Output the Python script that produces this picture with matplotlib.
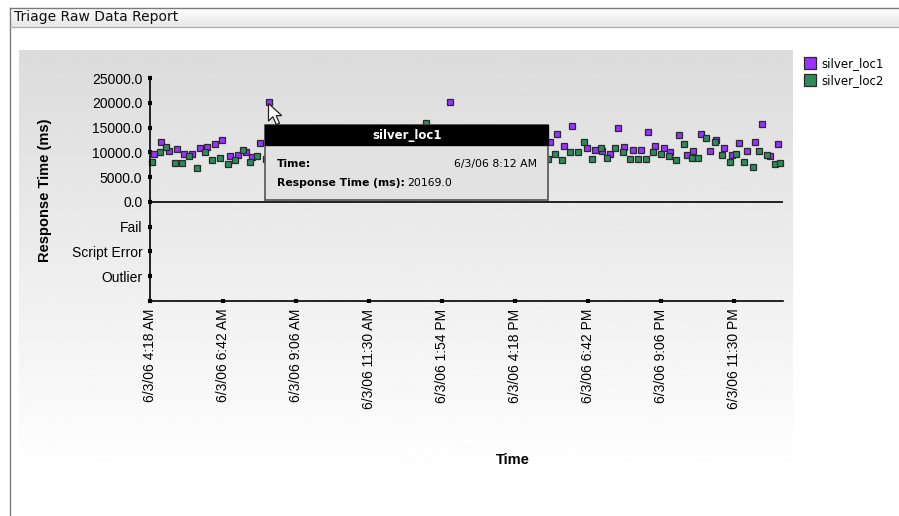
import numpy as np
import pandas as pd
import matplotlib
matplotlib.use("Agg")
import matplotlib.pyplot as plt
from matplotlib.patches import Rectangle, Polygon
from matplotlib.lines import Line2D

# silver_loc1 samples (time, response ms)
loc1_times = [
    "2006-06-03 04:26", "2006-06-03 04:40", "2006-06-03 04:55", "2006-06-03 05:11",
    "2006-06-03 05:25", "2006-06-03 05:41", "2006-06-03 05:57", "2006-06-03 06:10",
    "2006-06-03 06:26", "2006-06-03 06:41", "2006-06-03 06:55", "2006-06-03 07:11",
    "2006-06-03 07:27", "2006-06-03 07:40", "2006-06-03 07:56", "2006-06-03 08:12",
    "2006-06-03 14:10", "2006-06-03 17:27", "2006-06-03 17:42", "2006-06-03 17:55",
    "2006-06-03 18:11", "2006-06-03 18:40", "2006-06-03 18:56", "2006-06-03 19:09",
    "2006-06-03 19:25", "2006-06-03 19:41", "2006-06-03 19:54", "2006-06-03 20:11",
    "2006-06-03 20:26", "2006-06-03 20:40", "2006-06-03 20:55", "2006-06-03 21:12",
    "2006-06-03 21:25", "2006-06-03 21:41", "2006-06-03 21:57", "2006-06-03 22:10",
    "2006-06-03 22:25", "2006-06-03 22:42", "2006-06-03 22:55", "2006-06-03 23:11",
    "2006-06-03 23:27", "2006-06-03 23:40", "2006-06-03 23:56", "2006-06-04 00:12",
    "2006-06-04 00:25", "2006-06-04 00:41", "2006-06-04 00:57",
]
loc1_values = [
    9700, 12100, 10260, 10600, 9700, 9700, 10870, 11070,
    11680, 12490, 9250, 9450, 9980, 8970, 11870, 20169,
    20200, 12140, 13760, 11330, 15380, 10790, 10520, 10180,
    9720, 14840, 11070, 10520, 10520, 14030, 11330, 10790,
    9980, 13490, 9450, 10250, 13760, 10250, 12410, 10790,
    9450, 11880, 10250, 12140, 15650, 9170, 11600,
]

# silver_loc2 samples
loc2_times = [
    "2006-06-03 04:21", "2006-06-03 04:37", "2006-06-03 04:50", "2006-06-03 05:07",
    "2006-06-03 05:22", "2006-06-03 05:35", "2006-06-03 05:51", "2006-06-03 06:07",
    "2006-06-03 06:20", "2006-06-03 06:36", "2006-06-03 06:52", "2006-06-03 07:06",
    "2006-06-03 07:21", "2006-06-03 07:35", "2006-06-03 07:50", "2006-06-03 08:06",
    "2006-06-03 13:22", "2006-06-03 17:23", "2006-06-03 17:37", "2006-06-03 17:50",
    "2006-06-03 18:06", "2006-06-03 18:22", "2006-06-03 18:35", "2006-06-03 18:51",
    "2006-06-03 19:07", "2006-06-03 19:20", "2006-06-03 19:36", "2006-06-03 19:52",
    "2006-06-03 20:05", "2006-06-03 20:21", "2006-06-03 20:37", "2006-06-03 20:50",
    "2006-06-03 21:06", "2006-06-03 21:22", "2006-06-03 21:36", "2006-06-03 21:51",
    "2006-06-03 22:07", "2006-06-03 22:20", "2006-06-03 22:36", "2006-06-03 22:52",
    "2006-06-03 23:06", "2006-06-03 23:22", "2006-06-03 23:35", "2006-06-03 23:51",
    "2006-06-04 00:07", "2006-06-04 00:20", "2006-06-04 00:36", "2006-06-04 00:52",
    "2006-06-04 01:02",
]
loc2_values = [
    8100, 9980, 11070, 7830, 7830, 9170, 6820, 9980,
    8360, 8900, 7560, 8360, 10520, 8100, 9170, 8630,
    15900, 8630, 9720, 8360, 9980, 9980, 12140, 8630,
    10790, 8900, 10790, 9980, 8630, 8630, 8630, 9980,
    9720, 9170, 8360, 11600, 8900, 8900, 12950, 12140,
    9450, 8100, 9720, 8100, 7020, 10250, 9450, 7560,
    7830,
]

x_tick_labels = [
    "6/3/06 4:18 AM", "6/3/06 6:42 AM", "6/3/06 9:06 AM", "6/3/06 11:30 AM",
    "6/3/06 1:54 PM", "6/3/06 4:18 PM", "6/3/06 6:42 PM", "6/3/06 9:06 PM",
    "6/3/06 11:30 PM",
]
y_tick_values = [25000, 20000, 15000, 10000, 5000, 0, -5000, -10000, -15000, -20000]
y_tick_labels = ["25000.0", "20000.0", "15000.0", "10000.0", "5000.0", "0.0",
                 "Fail", "Script Error", "Outlier", ""]

series_names = ["silver_loc1", "silver_loc2"]
colors = ["#9933ff", "#2e8b5c"]

W, H = 899, 516
fig = plt.figure(figsize=(W / 100, H / 100), dpi=100)
fig.patch.set_facecolor("white")

# background layer in pixel coords
bg = fig.add_axes([0, 0, 1, 1], zorder=-1)
bg.axis("off")

# title bar
grad = np.linspace(1.0, 0.90, 50).reshape(-1, 1)
bg.imshow(grad, cmap="gray", vmin=0, vmax=1, extent=(10, W, 27, 8), aspect="auto")
bg.plot([10, W], [8, 8], color="#7a7a7a", lw=1)
bg.plot([10, 10], [8, H], color="#7a7a7a", lw=1)
bg.plot([10, W], [27, 27], color="#b0b0b0", lw=1)
bg.text(14, 17.5, "Triage Raw Data Report", fontsize=10, va="center", ha="left",
        family="DejaVu Sans", color="#111111")

# chart panel gradient
grad2 = np.linspace(0.86, 1.0, 200).reshape(-1, 1)
bg.imshow(grad2, cmap="gray", vmin=0, vmax=1, extent=(19, 793, 475, 50), aspect="auto")
bg.set_xlim(0, W)
bg.set_ylim(H, 0)

# main axes
ax = fig.add_axes([150 / W, 1 - 301 / H, 633 / W, 223 / H])
ax.patch.set_alpha(0)

t1 = pd.to_datetime(loc1_times)
t2 = pd.to_datetime(loc2_times)
ax.plot(t1, loc1_values, ls="none", marker="s", ms=4.8, mfc=colors[0],
        mec="#2a2a2a", mew=0.9, clip_on=False)
ax.plot(t2, loc2_values, ls="none", marker="s", ms=4.8, mfc=colors[1],
        mec="#2a2a2a", mew=0.9, clip_on=False)

xticks = pd.to_datetime(x_tick_labels, format="%m/%d/%y %I:%M %p")
ax.set_xlim(xticks[0], xticks[0] + pd.Timedelta(minutes=1249))
ax.set_ylim(-20000, 25000)
ax.set_xticks(xticks)
ax.set_xticklabels(x_tick_labels, rotation=90, fontsize=10, family="Liberation Sans")
ax.set_yticks(y_tick_values)
ax.set_yticklabels(y_tick_labels, fontsize=10, family="Liberation Sans")
ax.tick_params(axis="both", direction="inout", length=3, width=3, color="black", pad=4)
for s in ["top", "right"]:
    ax.spines[s].set_visible(False)
for s in ["left", "bottom"]:
    ax.spines[s].set_linewidth(1.2)
ax.axhline(0, color="black", lw=1.2)

fig.text(45 / W, 1 - 190 / H, "Response Time (ms)", rotation=90, fontsize=10.5,
         fontweight="bold", family="Liberation Sans", ha="center", va="center")
fig.text(513 / W, 1 - 460 / H, "Time", fontsize=10.5, fontweight="bold",
         family="Liberation Sans", ha="center", va="center")

# legend
handles = [Line2D([], [], ls="none", marker="s", ms=9, mfc=c, mec="#2a2a2a", mew=0.9)
           for c in colors]
fig.legend(handles, series_names, loc="upper left", bbox_to_anchor=(799 / W, 1 - 52 / H),
           frameon=False, handlelength=1.0, handletextpad=0.5,
           labelspacing=0.35, borderaxespad=0, prop={"family": "DejaVu Sans", "size": 8.5})

# tooltip overlay
ov = fig.add_axes([0, 0, 1, 1], zorder=10)
ov.set_xlim(0, W)
ov.set_ylim(H, 0)
ov.axis("off")
ov.patch.set_alpha(0)
ov.add_patch(Rectangle((265, 125), 283, 75, facecolor="#e2e2e2", edgecolor="#555555", lw=1.2))
ov.add_patch(Rectangle((265, 125), 283, 20, facecolor="black", edgecolor="black", lw=1))
ov.text(407, 135.5, "silver_loc1", color="white", fontsize=8.5, fontweight="bold",
        ha="center", va="center", family="DejaVu Sans")
ov.text(277, 164, "Time:", fontsize=7.8, fontweight="bold", ha="left", va="center",
        family="DejaVu Sans")
ov.text(537, 164, "6/3/06 8:12 AM", fontsize=7.8, ha="right", va="center",
        family="DejaVu Sans")
ov.text(277, 183, "Response Time (ms):", fontsize=7.8, fontweight="bold", ha="left",
        va="center", family="DejaVu Sans")
ov.text(407, 183, "20169.0", fontsize=7.8, ha="left", va="center", family="DejaVu Sans")

# mouse cursor
tip = np.array([268.5, 103.5])
shape = np.array([[0, 0], [0, 16], [4, 12], [7, 19], [10, 18], [7, 11], [12, 11]]) * 1.1
ov.add_patch(Polygon(shape + tip, closed=True, facecolor="white", edgecolor="#222222",
                     lw=0.9))

fig.savefig("out.png", dpi=100)
